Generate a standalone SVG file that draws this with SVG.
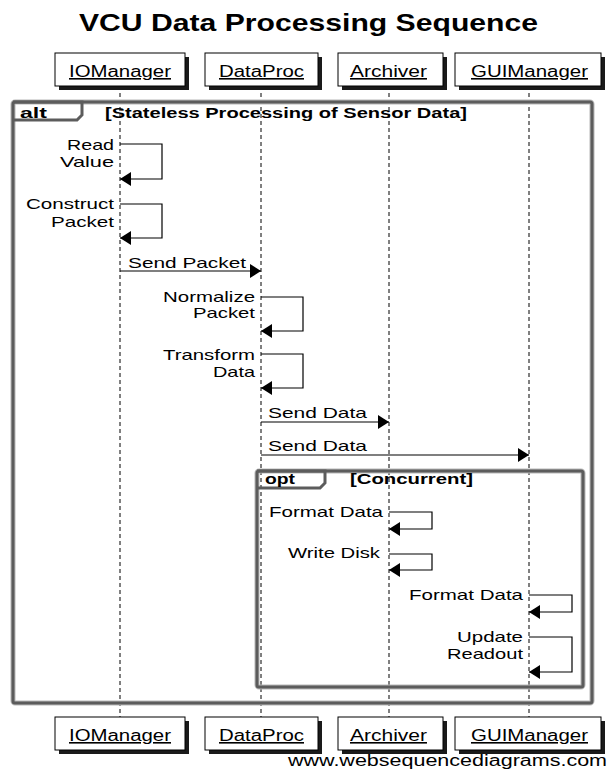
<svg xmlns="http://www.w3.org/2000/svg" width="616" height="769" viewBox="0 0 616 769">
<style>
text{font-family:"Liberation Sans",Arial,sans-serif;fill:#000}
.title{font-size:24px;font-weight:bold}
.pl{font-size:16px;text-decoration:underline}
.lbl{font-size:15px}
.fl{font-size:14px;font-weight:bold}
.box{fill:#fff;stroke:#000;stroke-width:1}
.shadow{fill:#1a1a1a}
.life{stroke:#000;stroke-width:1;stroke-dasharray:4 3;fill:none}
.msg{stroke:#000;stroke-width:1.2;fill:none;marker-end:url(#ah)}
.frame{fill:none;stroke:#5c5c5c;stroke-width:3}
.frameglow{fill:none;stroke:#b8b8b8;stroke-width:5}
.wm{font-size:16px}
</style>
<defs>
<marker id="ah" markerUnits="userSpaceOnUse" markerWidth="12" markerHeight="14" refX="11" refY="7" orient="auto">
<path d="M0,0 L11,7 L0,14 z" fill="#000"/>
</marker>
</defs>
<rect width="616" height="769" fill="#fff"/>
<text class="title" x="79" y="31" textLength="459" lengthAdjust="spacingAndGlyphs">VCU Data Processing Sequence</text>

<g id="lifelines">
<line class="life" x1="120" y1="86" x2="120" y2="717"/>
<line class="life" x1="261" y1="86" x2="261" y2="717"/>
<line class="life" x1="389" y1="86" x2="389" y2="717"/>
<line class="life" x1="529" y1="86" x2="529" y2="717"/>
</g>

<g id="frame-alt">
<rect class="frameglow" x="13" y="102" width="579" height="601" rx="2"/>
<rect class="frame" x="13" y="102" width="579" height="601" rx="2"/>
<path class="frame" d="M13,102 H82 V115 L77,120 H13"/>
<text class="fl" x="20" y="118" textLength="27" lengthAdjust="spacingAndGlyphs">alt</text>
<text class="fl" x="105" y="118" textLength="362" lengthAdjust="spacingAndGlyphs">[Stateless Processing of Sensor Data]</text>
</g>

<g id="frame-opt">
<rect class="frameglow" x="257" y="471" width="326" height="216" rx="2"/>
<rect class="frame" x="257" y="471" width="326" height="216" rx="2"/>
<path class="frame" d="M257,471 H325 V483 L320,488 H257"/>
<text class="fl" x="265" y="484" textLength="30" lengthAdjust="spacingAndGlyphs">opt</text>
<text class="fl" x="350" y="484" textLength="123" lengthAdjust="spacingAndGlyphs">[Concurrent]</text>
</g>

<g id="IOManager">
<rect class="shadow" x="59" y="57" width="130" height="33"/>
<rect class="box" x="55" y="53" width="130" height="33"/>
<text class="pl" x="69" y="77" textLength="102" lengthAdjust="spacingAndGlyphs">IOManager</text>
<rect class="shadow" x="59" y="721" width="130" height="33"/>
<rect class="box" x="55" y="717" width="130" height="33"/>
<text class="pl" x="69" y="741" textLength="102" lengthAdjust="spacingAndGlyphs">IOManager</text>
</g>
<g id="DataProc">
<rect class="shadow" x="209" y="57" width="113" height="33"/>
<rect class="box" x="205" y="53" width="113" height="33"/>
<text class="pl" x="219" y="77" textLength="85" lengthAdjust="spacingAndGlyphs">DataProc</text>
<rect class="shadow" x="209" y="721" width="113" height="33"/>
<rect class="box" x="205" y="717" width="113" height="33"/>
<text class="pl" x="219" y="741" textLength="85" lengthAdjust="spacingAndGlyphs">DataProc</text>
</g>
<g id="Archiver">
<rect class="shadow" x="342" y="57" width="105" height="33"/>
<rect class="box" x="338" y="53" width="105" height="33"/>
<text class="pl" x="350" y="77" textLength="77" lengthAdjust="spacingAndGlyphs">Archiver</text>
<rect class="shadow" x="342" y="721" width="105" height="33"/>
<rect class="box" x="338" y="717" width="105" height="33"/>
<text class="pl" x="350" y="741" textLength="77" lengthAdjust="spacingAndGlyphs">Archiver</text>
</g>
<g id="GUIManager">
<rect class="shadow" x="459" y="57" width="146" height="33"/>
<rect class="box" x="455" y="53" width="146" height="33"/>
<text class="pl" x="471" y="77" textLength="117" lengthAdjust="spacingAndGlyphs">GUIManager</text>
<rect class="shadow" x="459" y="721" width="146" height="33"/>
<rect class="box" x="455" y="717" width="146" height="33"/>
<text class="pl" x="471" y="741" textLength="117" lengthAdjust="spacingAndGlyphs">GUIManager</text>
</g>

<g id="connectors">
<g id="m1">
<path class="msg" d="M120,144 H162 V179 H120"/>
<text class="lbl" x="67" y="150" textLength="47" lengthAdjust="spacingAndGlyphs">Read</text>
<text class="lbl" x="60" y="167" textLength="54" lengthAdjust="spacingAndGlyphs">Value</text>
</g>
<g id="m2">
<path class="msg" d="M120,204 H162 V238 H120"/>
<text class="lbl" x="26" y="209" textLength="88" lengthAdjust="spacingAndGlyphs">Construct</text>
<text class="lbl" x="51" y="227" textLength="63" lengthAdjust="spacingAndGlyphs">Packet</text>
</g>
<g id="m3">
<path class="msg" d="M120,271 H261"/>
<text class="lbl" x="128" y="268" textLength="118" lengthAdjust="spacingAndGlyphs">Send Packet</text>
</g>
<g id="m4">
<path class="msg" d="M261,297 H303 V331 H261"/>
<text class="lbl" x="163" y="302" textLength="92" lengthAdjust="spacingAndGlyphs">Normalize</text>
<text class="lbl" x="193" y="318" textLength="62" lengthAdjust="spacingAndGlyphs">Packet</text>
</g>
<g id="m5">
<path class="msg" d="M261,354 H303 V388 H261"/>
<text class="lbl" x="163" y="360" textLength="92" lengthAdjust="spacingAndGlyphs">Transform</text>
<text class="lbl" x="213" y="377" textLength="42" lengthAdjust="spacingAndGlyphs">Data</text>
</g>
<g id="m6">
<path class="msg" d="M261,422 H389"/>
<text class="lbl" x="268" y="418" textLength="99" lengthAdjust="spacingAndGlyphs">Send Data</text>
</g>
<g id="m7">
<path class="msg" d="M261,455 H529"/>
<text class="lbl" x="268" y="451" textLength="99" lengthAdjust="spacingAndGlyphs">Send Data</text>
</g>
<g id="m8">
<path class="msg" d="M389,512 H432 V529 H389"/>
<text class="lbl" x="269" y="517" textLength="114" lengthAdjust="spacingAndGlyphs">Format Data</text>
</g>
<g id="m9">
<path class="msg" d="M389,554 H432 V570 H389"/>
<text class="lbl" x="288" y="558" textLength="92" lengthAdjust="spacingAndGlyphs">Write Disk</text>
</g>
<g id="m10">
<path class="msg" d="M529,595 H572 V612 H529"/>
<text class="lbl" x="409" y="600" textLength="114" lengthAdjust="spacingAndGlyphs">Format Data</text>
</g>
<g id="m11">
<path class="msg" d="M529,637 H572 V672 H529"/>
<text class="lbl" x="457" y="642" textLength="66" lengthAdjust="spacingAndGlyphs">Update</text>
<text class="lbl" x="447" y="659" textLength="76" lengthAdjust="spacingAndGlyphs">Readout</text>
</g>
</g>

<text class="wm" x="288" y="766" textLength="319" lengthAdjust="spacingAndGlyphs">www.websequencediagrams.com</text>
</svg>
